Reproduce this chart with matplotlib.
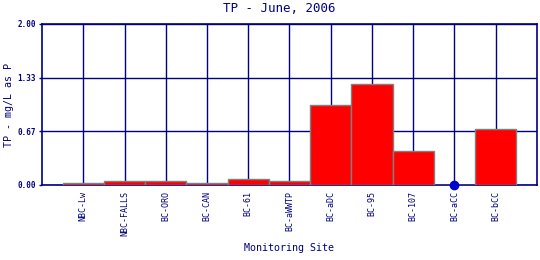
import numpy as np
import matplotlib
matplotlib.use("Agg")
import matplotlib.pyplot as plt

# Site list and TP values (mg/L as P)
sites = ["NBC-Lw", "NBC-FALLS", "BC-ORO", "BC-CAN", "BC-61", "BC-aWWTP",
         "BC-aDC", "BC-95", "BC-107", "BC-aCC", "BC-bCC"]
tp_values = [0.02, 0.045, 0.045, 0.02, 0.07, 0.045, 0.99, 1.25, 0.42, 0.0, 0.69]
y_ticks = [0.0, 0.67, 1.33, 2.0]
y_tick_labels = ["0.00", "0.67", "1.33", "2.00"]

navy = "#000080"
plt.rcParams["font.family"] = ["DejaVu Sans Mono"]

fig = plt.figure(figsize=(5.4, 2.6), dpi=100)
ax = fig.add_axes([0.0778, 0.2885, 0.9166, 0.6192])

x = np.arange(1, len(sites) + 1)
vals = np.array(tp_values)

# grid first, bars on top
ax.set_axisbelow(True)
ax.grid(True, color=navy, linewidth=1.0)
ax.bar(x, vals, width=1.0, color="red", edgecolor="gray", linewidth=1.0, zorder=3)

# zero values shown as a dot
zero = vals == 0
ax.plot(x[zero], vals[zero], "o", color="#0000cc", markersize=6, zorder=4, clip_on=False)

ax.set_xlim(0, len(sites) + 1)
ax.set_ylim(0, 2.0)
ax.set_xticks(x)
ax.set_xticklabels(sites, rotation=90, fontsize=6, color=navy)
ax.set_yticks(y_ticks)
ax.set_yticklabels(y_tick_labels, fontsize=5.5, color=navy, fontweight="bold")
ax.tick_params(axis="x", length=0, pad=4)
ax.tick_params(axis="y", length=2.5, width=1, color=navy, pad=2)

for s in ax.spines.values():
    s.set_color(navy)
    s.set_linewidth(1.2)

# labels placed in figure pixels to match the original layout
fig.text(279 / 540, 1 - 9 / 260, "TP - June, 2006", fontsize=9, color=navy,
         ha="center", va="center")
fig.text(9 / 540, 1 - 105 / 260, "TP - mg/L as P", fontsize=7.2, color=navy,
         ha="center", va="center", rotation=90)
fig.text(289 / 540, 1 - 248 / 260, "Monitoring Site", fontsize=7.2, color=navy,
         ha="center", va="center")

fig.savefig("out.png", dpi=100)
